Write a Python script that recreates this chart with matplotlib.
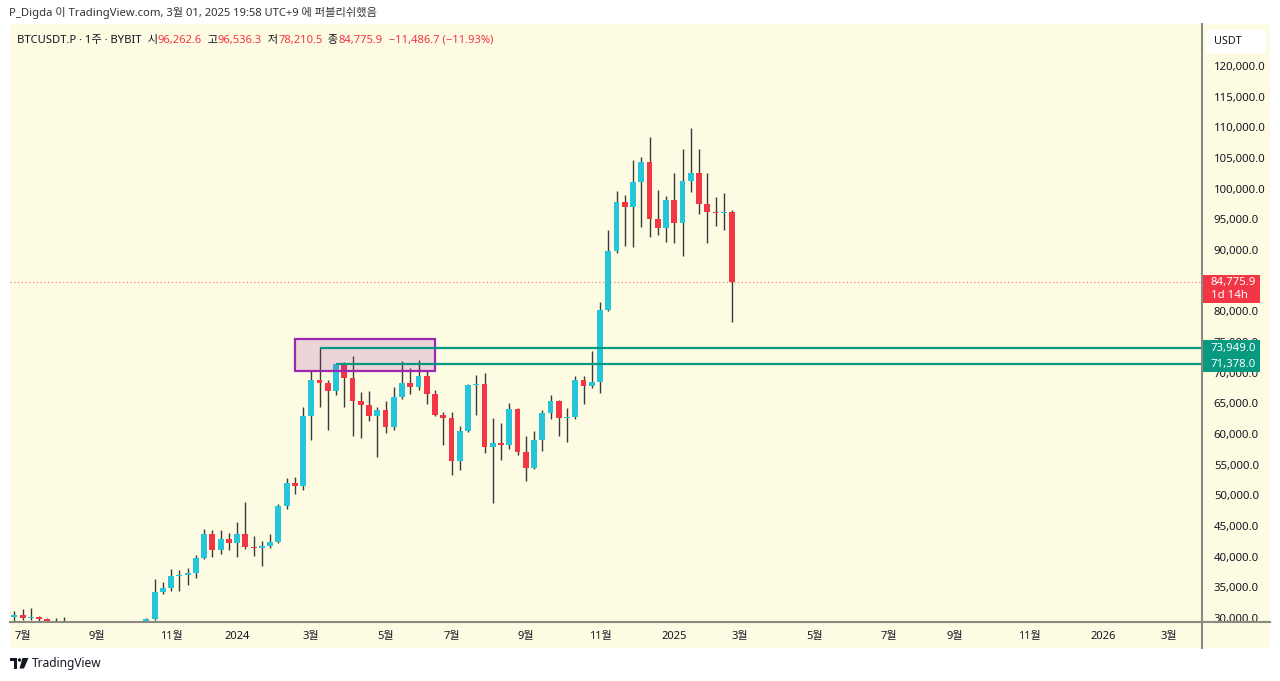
import matplotlib
matplotlib.use("Agg")
import matplotlib.pyplot as plt
import matplotlib.transforms as mtransforms
from matplotlib.patches import Rectangle, FancyBboxPatch, Polygon, Circle
import numpy as np
import pandas as pd

plt.rcParams['font.family'] = ['Noto Sans', 'Noto Sans CJK KR', 'DejaVu Sans']

# weekly BTCUSDT.P candles (Bybit), first bar = week of 2023-06-26
first_week = "2023-06-26"
opens = [30200, 30450, 29950, 30150, 29850, 29450, 29050, 29150, 26100, 26000,
         25800, 25850, 26550, 26250, 27980, 27950, 26850, 29850, 34300, 34850,
         36850, 37050, 37300, 39750, 43650, 41100, 42850, 42200, 43650, 41550,
         41450, 41750, 42450, 48250, 51950, 51550, 62950, 68800, 68250, 67050,
         71378, 69180, 65430, 64730, 62950, 63900, 61200, 66080, 68370, 67610,
         69460, 66550, 63100, 62600, 55600, 60490, 68000, 68150, 57830, 58480,
         58150, 64030, 57050, 54500, 59020, 63470, 65380, 62560, 62700, 68800,
         67830, 68530, 80220, 89840, 97870, 97060, 101040, 104400, 95000, 93530,
         98150, 94350, 101250, 102500, 97500, 96250, 95950, 96262.6]
highs = [31150, 31450, 31700, 30400, 30050, 29950, 30150, 29250, 26800, 28100,
         26400, 27500, 27450, 28000, 28600, 27950, 30050, 36400, 35950, 37950,
         37830, 38200, 40270, 44500, 44350, 44400, 43800, 45700, 48860, 43350,
         42600, 43700, 48600, 52800, 52940, 64350, 70300, 73949, 68800, 71650,
         71800, 72720, 66900, 67050, 64350, 65400, 67600, 71900, 70700, 72060,
         70200, 67150, 63600, 63650, 61300, 68150, 69620, 69900, 62560, 61850,
         65000, 64190, 59670, 60490, 63910, 66360, 65550, 64290, 69450, 69460,
         73600, 81570, 93260, 99620, 98970, 104670, 105210, 108380, 99780, 98800,
         102600, 106420, 109840, 106420, 102500, 98690, 99340, 96536.3]
lows = [29500, 29700, 29600, 29500, 28900, 28600, 28750, 25200, 25400, 25400,
        25300, 24900, 26050, 26000, 27200, 26500, 26550, 29700, 33850, 34450,
        34400, 35400, 36500, 39650, 40000, 40450, 41100, 40000, 41200, 40150,
        38400, 41400, 42250, 47700, 50250, 50900, 59000, 64450, 60650, 66350,
        64350, 59700, 59300, 62200, 56300, 60100, 60650, 65780, 66500, 67100,
        64900, 62900, 58200, 53300, 54150, 60300, 63100, 56950, 48700, 55750,
        57500, 56600, 52400, 54300, 57280, 62400, 59670, 58750, 62400, 64950,
        67450, 66650, 80000, 89460, 90650, 90540, 93800, 92170, 92450, 91350,
        91090, 89020, 99500, 95870, 91090, 93910, 93260, 78210.5]
closes = [30450, 29950, 30150, 29850, 29450, 29050, 29150, 26100, 26000, 25800,
          25850, 26550, 26250, 27980, 27950, 26850, 29850, 34300, 34850, 36850,
          37050, 37300, 39750, 43650, 41100, 42850, 42200, 43650, 41550, 41450,
          41750, 42450, 48250, 51950, 51550, 62950, 68800, 68250, 67050, 71378,
          69180, 65430, 64730, 62950, 63900, 61200, 66080, 68370, 67610, 69460,
          66550, 63100, 62600, 55600, 60490, 68000, 68150, 57830, 58480, 58150,
          64030, 57050, 54500, 59020, 63470, 65380, 62560, 62700, 68800, 67830,
          68530, 80220, 89840, 97870, 97060, 101040, 104400, 95000, 93530, 98150,
          94350, 101250, 102500, 97500, 96250, 95950, 96262.6, 84775.9]

tick_dates = ["2023-07-03", "2023-09-04", "2023-11-06", "2024-01-01", "2024-03-04",
              "2024-05-06", "2024-07-01", "2024-09-02", "2024-11-04", "2025-01-06",
              "2025-03-03", "2025-05-05", "2025-07-07", "2025-09-01", "2025-11-03",
              "2026-01-05", "2026-03-02"]
tick_labels = ["7월", "9월", "11월", "2024", "3월", "5월", "7월", "9월", "11월",
               "2025", "3월", "5월", "7월", "9월", "11월", "2026", "3월"]
price_ticks = list(range(30000, 120001, 5000))

box_dates = ["2024-02-19", "2024-06-17"]
box_prices = [70220, 75440]
level_dates = ["2024-03-11", "2024-03-25"]
level_prices = [73949.0, 71378.0]
last_price = 84775.9

UP = '#26C6DA'
DOWN = '#F23645'
WICK = '#3a3a3a'
TEAL = '#089981'
BG = '#FEFBE3'
TXT = '#131722'


def week_idx(d):
    return (pd.Timestamp(d) - pd.Timestamp(first_week)).days / 7.0


W, H = 1280, 681
fig = plt.figure(figsize=(W / 100, H / 100), dpi=100)
fig.patch.set_facecolor('white')

# pixel overlay for chrome (background panel / header / footer)
bg = fig.add_axes([0, 0, 1, 1], zorder=-1)
bg.set_xlim(0, W)
bg.set_ylim(H, 0)
bg.axis('off')
bg.add_patch(FancyBboxPatch((10, 24), 1260, 624, boxstyle="round,pad=0,rounding_size=4",
                            facecolor=BG, edgecolor='none'))

ax = fig.add_axes([10 / W, 59 / H, 1192 / W, 598 / H])
ax.patch.set_alpha(0)
for s in ax.spines.values():
    s.set_visible(False)

x = np.arange(len(opens))
o = np.array(opens)
c = np.array(closes)
colors = np.where(c >= o, UP, DOWN)
ax.vlines(x, lows, highs, color=WICK, lw=1, zorder=2)
ax.bar(x, np.maximum(np.abs(c - o), 160), bottom=np.minimum(o, c), width=0.72,
       color=colors, linewidth=0, zorder=3)

ax.set_xlim(-0.52, 143.97)
ax.set_ylim(29348, 126846)

# x ticks
ax.set_xticks([week_idx(d) for d in tick_dates])
ax.set_xticklabels(tick_labels)
ax.tick_params(axis='x', length=0, pad=6.5, labelsize=8, colors=TXT)
for lab in ax.get_xticklabels():
    if lab.get_text().isdigit():
        lab.set_fontweight('bold')

# y ticks on right (the 85,000 label sits fully under the last-price tag)
ax.yaxis.tick_right()
ax.set_yticks(price_ticks)
ax.set_yticklabels(["" if p == 85000 else f"{p:,.1f}" for p in price_ticks])
ax.tick_params(axis='y', length=0, pad=8.5, labelsize=8.2, colors=TXT)

# highlighted zone
bx0, bx1 = week_idx(box_dates[0]), week_idx(box_dates[1])
ax.add_patch(Rectangle((bx0, box_prices[0]), bx1 - bx0, box_prices[1] - box_prices[0],
                       facecolor=(0.61, 0.15, 0.69, 0.18), edgecolor='#9C27B0',
                       lw=1.6, zorder=4))

# horizontal levels
for d, p in zip(level_dates, level_prices):
    ax.hlines(p, week_idx(d), 143.97, color=TEAL, lw=1.6, zorder=4)

ax.axhline(last_price, color=DOWN, lw=0.9, ls=(0, (1, 2)), alpha=0.6, zorder=1)

# price-axis labels
trans = mtransforms.blended_transform_factory(ax.transAxes, ax.transData)
ppx = (126846 - 29348) / 598.0
bw = 57 / 1192
ax.add_patch(Rectangle((1.0008, last_price - 20.5 * ppx), bw, 28 * ppx, transform=trans,
                       facecolor=DOWN, edgecolor='none', clip_on=False, zorder=5))
ax.text(1.0075, last_price, f"{last_price:,.1f}", transform=trans, color='white',
        fontsize=8.2, va='center', ha='left', zorder=6, clip_on=False)
ax.text(1.0075, last_price - 13.3 * ppx, "1d 14h", transform=trans, color='white',
        fontsize=8.2, va='center', ha='left', zorder=6, clip_on=False)
for p in level_prices:
    ax.add_patch(Rectangle((1.0008, p - 8 * ppx), bw, 16 * ppx, transform=trans,
                           facecolor=TEAL, edgecolor='none', clip_on=False, zorder=5))
    ax.text(1.0075, p, f"{p:,.1f}", transform=trans, color='white', fontsize=8.2,
            va='center', ha='left', zorder=6, clip_on=False)

# foreground chrome
fg = fig.add_axes([0, 0, 1, 1], zorder=5)
fg.set_xlim(0, W)
fg.set_ylim(H, 0)
fg.axis('off')
fg.patch.set_alpha(0)
fg.plot([1202, 1202], [24, 648], color='#8a8a80', lw=1.5)
fg.plot([10, 1270], [622, 622], color='#8a8a80', lw=1.5)

fg.add_patch(FancyBboxPatch((1206, 30), 60, 23, boxstyle="round,pad=0,rounding_size=3",
                            facecolor='white', edgecolor='none'))
fg.text(1214, 41.5, "USDT", fontsize=7.8, color=TXT, va='center', ha='left')

fg.text(9, 13, "P_Digda 이 TradingView.com, 3월 01, 2025 19:58 UTC+9 에 퍼블리쉬했음",
        fontsize=8.1, color='#333333', va='center', ha='left')

parts = [("BTCUSDT.P · 1주 · BYBIT", TXT), ("  시", TXT), ("96,262.6", DOWN),
         ("  고", TXT), ("96,536.3", DOWN), ("  저", TXT), ("78,210.5", DOWN),
         ("  종", TXT), ("84,775.9", DOWN), ("  −11,486.7 (−11.93%)", DOWN)]
prev = fg.text(17, 46, parts[0][0], fontsize=8.1, color=parts[0][1], va='bottom', ha='left')
for s, col in parts[1:]:
    prev = fg.annotate(s, xy=(1, 0), xycoords=prev, fontsize=8.1, color=col,
                       va='bottom', ha='left')

# footer logo + name
fg.add_patch(Polygon([(10, 658), (17, 658), (17, 668.5), (13.5, 668.5), (13.5, 661), (10, 661)],
                     closed=True, facecolor=TXT, edgecolor='none'))
fg.add_patch(Circle((19.5, 660), 1.7, facecolor=TXT, edgecolor='none'))
fg.add_patch(Polygon([(22.5, 658), (28.5, 658), (24, 668.5), (19.5, 668.5)],
                     closed=True, facecolor=TXT, edgecolor='none'))
fg.text(32, 663.5, "TradingView", fontsize=8.6, color=TXT, va='center', ha='left')

fig.savefig("out.png", dpi=100, facecolor='white')
